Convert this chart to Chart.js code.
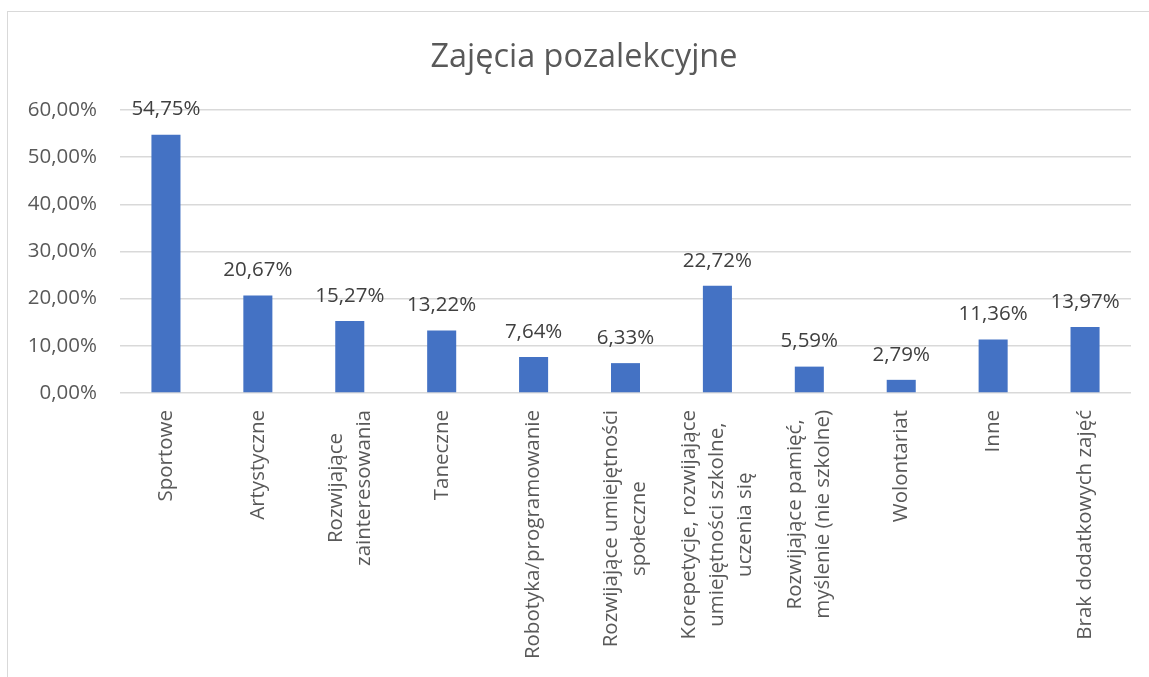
<!DOCTYPE html>
<html><head><meta charset="utf-8">
<script src="https://cdn.jsdelivr.net/npm/chart.js@4"></script>
<style>
html,body{margin:0;padding:0;background:#fff;overflow:hidden;width:1149px;height:677px;}
#frame{position:absolute;left:7px;top:11px;width:1160px;height:700px;border:1px solid #d9d9d9;}
canvas{position:absolute;left:0;top:0;}
</style></head><body>
<div id="frame"><canvas id="c" width="1152" height="665"></canvas></div>
<script>
const chartTitle = "Zajęcia pozalekcyjne";
const categories = [
  ["Sportowe"],
  ["Artystyczne"],
  ["Rozwijające", "zainteresowania"],
  ["Taneczne"],
  ["Robotyka/programowanie"],
  ["Rozwijające umiejętności", "społeczne"],
  ["Korepetycje, rozwijające", "umiejętności szkolne,", "uczenia się"],
  ["Rozwijające pamięć,", "myślenie (nie szkolne)"],
  ["Wolontariat"],
  ["Inne"],
  ["Brak dodatkowych zajęć"]
];
const values = [54.75, 20.67, 15.27, 13.22, 7.64, 6.33, 22.72, 5.59, 2.79, 11.36, 13.97];
const yTicks = [0, 10, 20, 30, 40, 50, 60];

const FONT = '"Open Sans", "Noto Sans", sans-serif';
const fmt = v => v.toFixed(2).replace('.', ',') + '%';

const dataLabelPlugin = {
  id: 'dataLabels',
  afterDatasetsDraw(chart) {
    const ctx = chart.ctx;
    const meta = chart.getDatasetMeta(0);
    ctx.save();
    ctx.font = '20.5px ' + FONT;
    ctx.fillStyle = '#404040';
    ctx.textAlign = 'center';
    ctx.textBaseline = 'middle';
    meta.data.forEach((bar, i) => {
      ctx.fillText(fmt(values[i]), bar.x, bar.y - 25);
    });
    ctx.restore();
  }
};

const xLabelPlugin = {
  id: 'xLabels',
  afterDraw(chart) {
    const ctx = chart.ctx;
    const xs = chart.scales.x;
    const top = chart.chartArea.bottom + 17;
    const lh = 28;
    ctx.save();
    ctx.font = '20.5px ' + FONT;
    ctx.fillStyle = '#595959';
    ctx.textAlign = 'center';
    ctx.textBaseline = 'middle';
    categories.forEach((lines, i) => {
      const x = xs.getPixelForValue(i);
      const maxW = Math.max(...lines.map(l => ctx.measureText(l).width));
      ctx.save();
      ctx.translate(x, top);
      ctx.rotate(-Math.PI / 2);
      lines.forEach((l, j) => {
        const off = (j - (lines.length - 1) / 2) * lh;
        ctx.fillText(l, -maxW / 2, off);
      });
      ctx.restore();
    });
    ctx.restore();
  }
};

function draw() {
  new Chart(document.getElementById('c'), {
    type: 'bar',
    data: {
      labels: categories,
      datasets: [{
        data: values,
        backgroundColor: '#4472C4',
        categoryPercentage: 1,
        barPercentage: 0.316
      }]
    },
    options: {
      responsive: false,
      animation: false,
      devicePixelRatio: 1,
      layout: { padding: { left: 0, right: 0, top: 0, bottom: 0 } },
      plugins: {
        legend: { display: false },
        tooltip: { enabled: false },
        title: {
          display: true,
          text: chartTitle,
          color: '#595959',
          font: { family: FONT, size: 32.4, weight: 'normal', lineHeight: 1.2 },
          padding: { top: 26, bottom: 33 }
        }
      },
      scales: {
        x: {
          grid: { display: false },
          border: { display: false },
          ticks: { display: false },
          afterFit: s => { s.height = 284; }
        },
        y: {
          min: 0, max: 60,
          afterBuildTicks: s => { s.ticks = yTicks.map(v => ({ value: v })); },
          grid: { color: '#d9d9d9', lineWidth: 1.5, drawTicks: false },
          border: { display: false },
          ticks: {
            color: '#595959',
            padding: 23,
            font: { family: FONT, size: 20.5 },
            callback: v => fmt(v)
          },
          afterFit: s => { s.width = 112; }
        },
        yRightSpace: {
          type: 'linear',
          position: 'right',
          grid: { display: false, drawOnChartArea: false },
          border: { display: false },
          ticks: { display: false },
          afterFit: s => { s.width = 29; }
        }
      }
    },
    plugins: [dataLabelPlugin, xLabelPlugin]
  });
}
if (document.fonts && document.fonts.load) {
  document.fonts.load('20px "Open Sans"').then(draw, draw);
} else { draw(); }
</script>
</body></html>
